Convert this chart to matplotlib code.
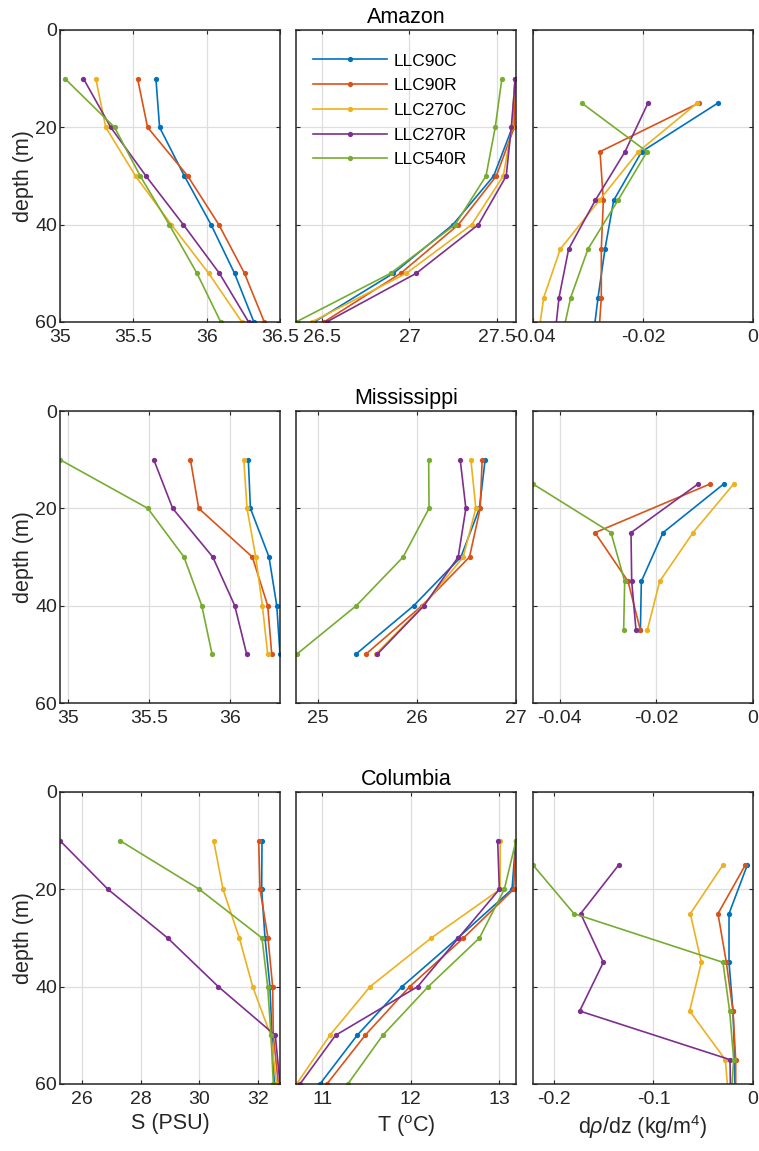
import matplotlib
matplotlib.use("Agg")
import matplotlib.pyplot as plt
from matplotlib.ticker import FuncFormatter

plt.rcParams["font.family"] = ["Liberation Sans", "DejaVu Sans"]
plt.rcParams["axes.unicode_minus"] = False
plt.rcParams["mathtext.fontset"] = "custom"
plt.rcParams["mathtext.rm"] = "Liberation Sans"
plt.rcParams["mathtext.it"] = "Liberation Sans:italic"

runs = ["LLC90C", "LLC90R", "LLC270C", "LLC270R", "LLC540R"]
colors = ["#0072BD", "#D95319", "#EDB120", "#7E2F8E", "#77AC30"]

depth_ts_amazon = [10, 20, 30, 40, 50, 60]
depth_ts_miss = [10, 20, 30, 40, 50]
depth_ts_col = [10, 20, 30, 40, 50, 60]
depth_drho_amazon = [15, 25, 35, 45, 55, 65]
depth_drho_miss = [15, 25, 35, 45]
depth_drho_col = [15, 25, 35, 45, 55, 65]

# rows follow the order of runs
amazon_S = [
    [35.654, 35.679, 35.848, 36.030, 36.190, 36.322],
    [35.529, 35.597, 35.871, 36.083, 36.258, 36.393],
    [35.244, 35.312, 35.515, 35.759, 36.014, 36.240],
    [35.160, 35.346, 35.586, 35.841, 36.087, 36.286],
    [35.034, 35.372, 35.547, 35.745, 35.934, 36.096],
]
amazon_T = [
    [27.605, 27.590, 27.483, 27.249, 26.908, 26.454],
    [27.607, 27.601, 27.498, 27.281, 26.950, 26.510],
    [27.605, 27.588, 27.538, 27.357, 26.982, 26.440],
    [27.607, 27.584, 27.555, 27.395, 27.039, 26.525],
    [27.530, 27.492, 27.439, 27.262, 26.892, 26.350],
]
amazon_drho = [
    [-0.00636, -0.02024, -0.02533, -0.02691, -0.02818, -0.02927],
    [-0.00982, -0.02782, -0.02721, -0.02758, -0.02758, -0.02818],
    [-0.01012, -0.02085, -0.02794, -0.03503, -0.03806, -0.03930],
    [-0.01909, -0.02327, -0.02867, -0.03352, -0.03527, -0.03624],
    [-0.03115, -0.01927, -0.02455, -0.03000, -0.03315, -0.03510],
]
miss_S = [
    [36.113, 36.126, 36.241, 36.289, 36.309],
    [35.755, 35.806, 36.138, 36.233, 36.258],
    [36.085, 36.105, 36.159, 36.200, 36.233],
    [35.528, 35.645, 35.893, 36.029, 36.103],
    [34.948, 35.491, 35.715, 35.825, 35.889],
]
miss_T = [
    [26.688, 26.630, 26.443, 25.966, 25.379],
    [26.658, 26.638, 26.530, 26.050, 25.480],
    [26.544, 26.594, 26.466, 26.064, 25.580],
    [26.436, 26.493, 26.416, 26.070, 25.597],
    [26.117, 26.121, 25.859, 25.386, 24.782],
]
miss_drho = [
    [-0.00607, -0.01862, -0.02310, -0.02330],
    [-0.00890, -0.03269, -0.02586, -0.02331],
    [-0.00400, -0.01241, -0.01931, -0.02186],
    [-0.01138, -0.02524, -0.02510, -0.02421],
    [-0.04552, -0.02938, -0.02655, -0.02676],
]
col_S = [
    [32.148, 32.137, 32.251, 32.420, 32.490, 32.570],
    [32.034, 32.080, 32.353, 32.513, 32.536, 32.707],
    [30.494, 30.814, 31.373, 31.829, 32.445, 32.650],
    [25.236, 26.878, 28.920, 30.654, 32.604, 32.764],
    [27.289, 30.004, 32.148, 32.342, 32.456, 32.536],
]
col_T = [
    [13.185, 13.143, 12.531, 11.900, 11.394, 10.974],
    [13.188, 13.161, 12.595, 11.987, 11.484, 11.053],
    [13.011, 13.008, 12.231, 11.540, 11.086, 10.711],
    [12.981, 13.000, 12.538, 12.077, 11.150, 10.749],
    [13.188, 13.056, 12.775, 12.197, 11.683, 11.289],
]
col_drho = [
    [-0.0057, -0.0241, -0.0241, -0.0201, -0.0184, -0.0184],
    [-0.0077, -0.0352, -0.0268, -0.0201, -0.0174, -0.0174],
    [-0.0302, -0.0630, -0.0519, -0.0637, -0.0278, -0.0238],
    [-0.1350, -0.1732, -0.1504, -0.1742, -0.0231, -0.0224],
    [-0.2211, -0.1799, -0.0302, -0.0235, -0.0194, -0.0228],
]

titles = ["Amazon", "Mississippi", "Columbia"]
xlabels = ["S (PSU)", r"T ($^{\rm o}$C)", r"d$\it{\rho}$/dz (kg/m$^4$)"]

panels = [
    [(depth_ts_amazon, amazon_S), (depth_ts_amazon, amazon_T), (depth_drho_amazon, amazon_drho)],
    [(depth_ts_miss, miss_S), (depth_ts_miss, miss_T), (depth_drho_miss, miss_drho)],
    [(depth_ts_col, col_S), (depth_ts_col, col_T), (depth_drho_col, col_drho)],
]
xlims = [
    [(35, 36.5), (26.35, 27.611), (-0.04, 0)],
    [(34.948, 36.309), (24.776, 27.0), (-0.04552, 0)],
    [(25.236, 32.764), (10.704, 13.188), (-0.2211, 0)],
]
xticks = [
    [[35, 35.5, 36, 36.5], [26.5, 27, 27.5], [-0.04, -0.02, 0]],
    [[35, 35.5, 36], [25, 26, 27], [-0.04, -0.02, 0]],
    [[26, 28, 30, 32], [11, 12, 13], [-0.2, -0.1, 0]],
]

W, H = 759, 1151
fig = plt.figure(figsize=(W / 100, H / 100), dpi=100)

lefts = [60, 296, 533]
tops = [30, 411, 792]
aw, ah = 220, 292
txt = "#262626"
fmt = FuncFormatter(lambda v, p: f"{v:g}")

for r in range(3):
    for c in range(3):
        ax = fig.add_axes([lefts[c] / W, 1 - (tops[r] + ah) / H, aw / W, ah / H])
        depth, vals = panels[r][c]
        for k in range(len(runs)):
            ax.plot(vals[k], depth, color=colors[k], lw=1.2, marker="o",
                    ms=3.8, mew=0, label=runs[k])
        ax.set_xlim(*xlims[r][c])
        ax.set_ylim(60, 0)
        ax.set_xticks(xticks[r][c])
        ax.set_yticks([0, 20, 40, 60])
        ax.xaxis.set_major_formatter(fmt)
        ax.grid(True, color="#dedede", lw=0.9)
        ax.tick_params(direction="in", length=3, width=0.8, top=True, right=True,
                       labelsize=14, colors=txt, labelcolor=txt)
        ax.tick_params(axis="x", pad=5)
        ax.tick_params(axis="y", pad=2)
        for s in ax.spines.values():
            s.set_color(txt)
            s.set_linewidth(1.1)
        if c == 0:
            ax.set_ylabel("depth (m)", fontsize=15.5, color=txt, labelpad=1)
        else:
            ax.set_yticklabels([])
        if c == 1:
            ax.set_title(titles[r], fontsize=15.5, color="black", pad=5)
        if r == 2:
            ax.set_xlabel(xlabels[c], fontsize=15.5, color=txt, labelpad=4)
        if r == 0 and c == 1:
            ax.legend(loc="upper left", bbox_to_anchor=(0.075, 0.92), frameon=False,
                      fontsize=12.5, handlelength=4.3, handletextpad=0.4,
                      labelspacing=0.55, borderpad=0, borderaxespad=0)

fig.savefig("out.png", dpi=100)
